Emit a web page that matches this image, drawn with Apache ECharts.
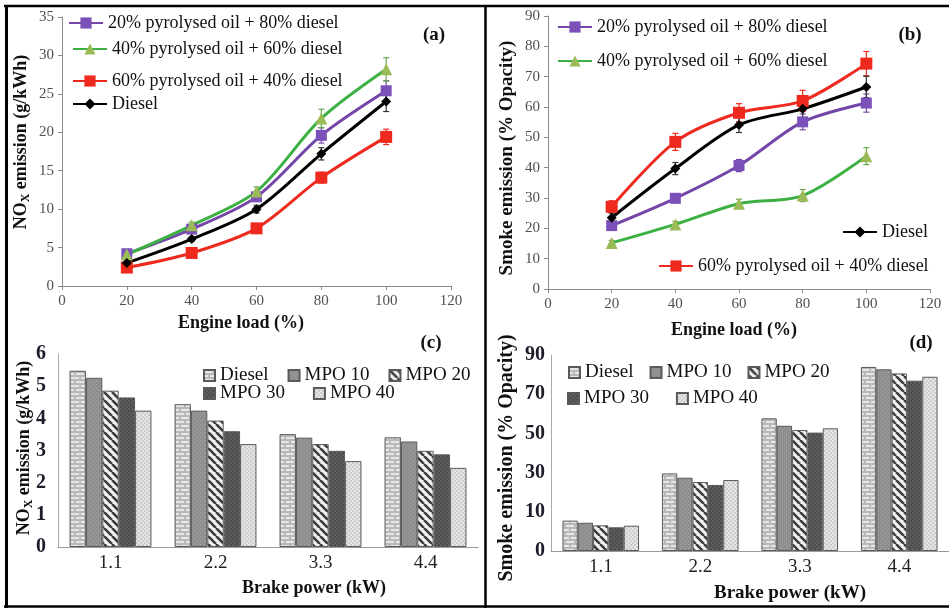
<!DOCTYPE html>
<html><head><meta charset="utf-8">
<script src="https://cdn.jsdelivr.net/npm/echarts@6/dist/echarts.min.js"></script>
<style>html,body{margin:0;padding:0;background:#fff}#c{width:949px;height:609px}</style>
</head><body><div id="c"></div>
<script>
// ---------- data ----------
const loads = [20, 40, 60, 80, 100];
const nameP20 = '20% pyrolysed oil + 80% diesel';
const nameP40 = '40% pyrolysed oil + 60% diesel';
const nameP60 = '60% pyrolysed oil + 40% diesel';
const nameDiesel = 'Diesel';

// (a) NOx emission (g/kWh)
const noxP20 = [4.2, 7.4, 11.6, 19.6, 25.4];
const noxP40 = [4.1, 7.9, 12.3, 21.8, 28.2];
const noxP60 = [2.4, 4.3, 7.5, 14.1, 19.4];
const noxDiesel = [3.0, 6.1, 10.0, 17.2, 24.0];
const noxErrP20 = [0.3, 0.4, 0.5, 1.0, 1.3];
const noxErrP40 = [0.3, 0.4, 0.6, 1.2, 1.5];
const noxErrP60 = [0.3, 0.3, 0.6, 0.7, 1.0];
const noxErrDiesel = [0.3, 0.3, 0.5, 0.8, 1.3];

// (b) Smoke emission (% opacity)
const smokeP20 = [20.9, 29.9, 40.7, 55.1, 61.3];
const smokeP40 = [15.2, 21.3, 28.1, 30.8, 43.8];
const smokeP60 = [27.1, 48.5, 58.1, 62.0, 74.3];
const smokeDiesel = [23.5, 39.7, 54.1, 59.4, 66.6];
const smokeErrP20 = [1.0, 1.5, 2.0, 2.6, 3.0];
const smokeErrP40 = [0.8, 1.0, 1.5, 2.0, 2.8];
const smokeErrP60 = [2.0, 2.8, 3.0, 3.5, 4.0];
const smokeErrDiesel = [1.5, 2.0, 2.5, 3.0, 3.5];

// (c)/(d) bars
const brakePower = ['1.1', '2.2', '3.3', '4.4'];
const fuelNames = ['Diesel', 'MPO 10', 'MPO 20', 'MPO 30', 'MPO 40'];
const noxBarDiesel = [5.48, 4.44, 3.51, 3.41];
const noxBarMPO10 = [5.26, 4.24, 3.40, 3.28];
const noxBarMPO20 = [4.86, 3.93, 3.20, 2.99];
const noxBarMPO30 = [4.65, 3.60, 2.99, 2.88];
const noxBarMPO40 = [4.24, 3.20, 2.67, 2.46];
const smokeBarDiesel = [15.5, 39.6, 67.7, 93.9];
const smokeBarMPO10 = [14.4, 37.4, 63.9, 92.7];
const smokeBarMPO20 = [13.1, 35.2, 61.7, 90.6];
const smokeBarMPO30 = [12.1, 33.7, 60.4, 86.9];
const smokeBarMPO40 = [12.9, 36.2, 62.6, 88.9];
const smokeBarTickLabels = ['0', '10', '30', '50', '70', '90'];

// ---------- styles ----------
const FF = '"Liberation Serif","Times New Roman",serif';
const colP20 = '#7346a8', mkP20 = '#7b50b8';
const colP40 = '#3cb043', mkP40 = '#9bbb59';
const colP60 = '#ee2a1e', mkP60 = '#ee2a1e';
const colD = '#000000', mkD = '#000000';

function pat(w, h, draw) {
  const c = document.createElement('canvas'); c.width = w; c.height = h;
  const g = c.getContext('2d'); draw(g); return { image: c, repeat: 'repeat' };
}
const patterns = [
  pat(10, 8, g => { g.fillStyle = '#b8b8b8'; g.fillRect(0,0,10,8); g.fillStyle = '#e6e6e6';
    g.fillRect(1,1,8,2); g.fillRect(-4,5,8,2); g.fillRect(6,5,8,2); }),
  pat(4, 4, g => { g.fillStyle = '#8e8e8e'; g.fillRect(0,0,4,4); g.fillStyle = '#a9a9a9';
    g.fillRect(0,0,1,1); g.fillRect(2,2,1,1); }),
  pat(8, 8, g => { g.fillStyle = '#f2f2f2'; g.fillRect(0,0,8,8); g.strokeStyle = '#3c3c3c'; g.lineWidth = 2.6;
    for (const k of [-8, 0, 8]) { g.beginPath(); g.moveTo(k, 0); g.lineTo(k + 8, 8); g.stroke(); } }),
  pat(4, 4, g => { g.fillStyle = '#4c4c4c'; g.fillRect(0,0,4,4); g.fillStyle = '#5e5e5e';
    g.fillRect(0,0,2,2); g.fillRect(2,2,2,2); }),
  pat(4, 4, g => { g.fillStyle = '#cdcdcd'; g.fillRect(0,0,4,4); g.fillStyle = '#e6e6e6';
    g.fillRect(0,0,2,2); g.fillRect(2,2,2,2); })
];

function lineSeries(name, xi, vals, lineColor, markColor, symbol, size) {
  return { type: 'line', name, xAxisIndex: xi, yAxisIndex: xi, smooth: 0.3,
    data: loads.map((x, i) => [x, vals[i]]), symbol, symbolSize: size, z: 3,
    lineStyle: { color: lineColor, width: 3 }, itemStyle: { color: markColor, borderWidth: 0 } };
}
function errSeries(xi, vals, errs, color) {
  return { type: 'custom', xAxisIndex: xi, yAxisIndex: xi, silent: true, z: 2,
    data: loads.map((x, i) => [x, vals[i] - errs[i], vals[i] + errs[i]]),
    encode: { x: 0, y: [1, 2] },
    renderItem(params, api) {
      const lo = api.coord([api.value(0), api.value(1)]);
      const hi = api.coord([api.value(0), api.value(2)]);
      const w = 3, st = { stroke: color, lineWidth: 1.2 };
      return { type: 'group', children: [
        { type: 'line', shape: { x1: lo[0], y1: lo[1], x2: hi[0], y2: hi[1] }, style: st },
        { type: 'line', shape: { x1: lo[0]-w, y1: lo[1], x2: lo[0]+w, y2: lo[1] }, style: st },
        { type: 'line', shape: { x1: hi[0]-w, y1: hi[1], x2: hi[0]+w, y2: hi[1] }, style: st }
      ] };
    } };
}
const BP = 'bar:';
function barSeries(i, xi, vals, gap) {
  return { type: 'bar', name: BP + fuelNames[i], xAxisIndex: xi, yAxisIndex: xi, data: vals,
    barGap: '0%', barCategoryGap: gap,
    itemStyle: { color: patterns[i], borderColor: '#5a5a5a', borderWidth: 1 } };
}

const lineAxisLabel = { fontFamily: FF, fontSize: 15, color: '#505050' };
const lineAxisLine = { lineStyle: { color: '#8a8a8a', width: 1 } };
function valX(gi) {
  return { type: 'value', gridIndex: gi, min: 0, max: 120, interval: 20,
    axisLine: { show: true, ...lineAxisLine }, axisTick: { show: true, length: 4, lineStyle: { color: '#8a8a8a' } },
    splitLine: { show: false }, axisLabel: { ...lineAxisLabel, margin: 8 } };
}
function valY(gi, max, interval) {
  return { type: 'value', gridIndex: gi, min: 0, max, interval,
    axisLine: { show: true, ...lineAxisLine }, axisTick: { show: true, length: 4, lineStyle: { color: '#8a8a8a' } },
    splitLine: { show: false }, axisLabel: { ...lineAxisLabel, margin: 8 } };
}
function catX(gi) {
  return { type: 'category', gridIndex: gi, data: brakePower,
    axisLine: { show: true, lineStyle: { color: '#9a9a9a' } }, axisTick: { show: false },
    axisLabel: { fontFamily: FF, fontSize: 19, color: '#222', margin: 7 } };
}

function lineLegend(name, left, cy) {
  return { data: [name], left, top: cy - 10, padding: 0, itemWidth: 34, itemHeight: 14,
    selectedMode: false, textStyle: { fontFamily: FF, fontSize: 18, color: '#111' } };
}
function barLegend(names, left, cy, gap) {
  return { data: names.map(n => ({ name: BP + n, icon: 'rect' })), left, top: cy - 11, padding: 0,
    itemWidth: 11, itemHeight: 11, itemGap: gap, selectedMode: false, formatter: n => n.slice(BP.length),
    textStyle: { fontFamily: FF, fontSize: 19, color: '#111' } };
}

function txt(text, x, y, size, opts = {}) {
  return { type: 'text', x, y, rotation: opts.rot || 0, z: 10,
    style: { text, font: 'bold ' + size + 'px ' + FF, fill: '#111', align: 'center', verticalAlign: 'middle' } };
}
function noxTitle(x, y, size) {
  const rich = {
    a: { fontFamily: FF, fontWeight: 'bold', fontSize: size, lineHeight: size + 4, fill: '#111' },
    s: { fontFamily: FF, fontWeight: 'bold', fontSize: Math.round(size * 0.65), lineHeight: Math.round(size * 0.65),
         verticalAlign: 'bottom', fill: '#111' }
  };
  return { type: 'text', x, y, rotation: Math.PI / 2, z: 10,
    style: { text: '{a|NO}{s|X}{a| emission (g/kWh)}', rich, align: 'center', verticalAlign: 'middle' } };
}
function hl(x1, y1, x2, y2, w) {
  return { type: 'line', shape: { x1, y1, x2, y2 }, style: { stroke: '#000', lineWidth: w }, z: 20 };
}

const option = {
  backgroundColor: '#fff',
  animation: false,
  grid: [
    { left: 62, top: 17, width: 389, height: 269 },
    { left: 548, top: 16, width: 382, height: 273 },
    { left: 58, top: 354, width: 420, height: 193 },
    { left: 551, top: 355, width: 398, height: 196 }
  ],
  xAxis: [valX(0), valX(1), catX(2), catX(3)],
  yAxis: [
    valY(0, 35, 5),
    valY(1, 90, 10),
    { type: 'value', gridIndex: 2, min: 0, max: 6, interval: 1, splitLine: { show: false },
      axisLine: { show: true, lineStyle: { color: '#aaa' } }, axisTick: { show: false },
      axisLabel: { fontFamily: FF, fontSize: 20, fontWeight: 'bold', color: '#1c1c2a', margin: 12 } },
    { type: 'value', gridIndex: 3, min: 0, max: 100, interval: 20, splitLine: { show: false },
      axisLine: { show: true, lineStyle: { color: '#aaa' } }, axisTick: { show: false },
      axisLabel: { fontFamily: FF, fontSize: 20, fontWeight: 'bold', color: '#1c1c2a', margin: 6,
        formatter: v => smokeBarTickLabels[Math.round(v / 20)] } }
  ],
  legend: [
    lineLegend(nameP20, 68, 24),
    lineLegend(nameP40, 72, 50),
    lineLegend(nameP60, 72, 82),
    lineLegend(nameDiesel, 72, 105),
    lineLegend(nameP20, 557, 28),
    lineLegend(nameP40, 557, 62),
    lineLegend(nameDiesel, 842, 233),
    lineLegend(nameP60, 658, 267),
    barLegend(fuelNames.slice(0, 3), 203, 377, 19),
    barLegend(fuelNames.slice(3), 203, 395, 28),
    barLegend(fuelNames.slice(0, 3), 568, 374, 16),
    barLegend(fuelNames.slice(3), 567, 400, 27)
  ],
  series: [
    errSeries(0, noxP20, noxErrP20, colP20),
    errSeries(0, noxP40, noxErrP40, '#6aa84f'),
    errSeries(0, noxP60, noxErrP60, colP60),
    errSeries(0, noxDiesel, noxErrDiesel, '#333'),
    lineSeries(nameP20, 0, noxP20, colP20, mkP20, 'rect', 11),
    lineSeries(nameP40, 0, noxP40, colP40, mkP40, 'triangle', 12),
    lineSeries(nameP60, 0, noxP60, colP60, mkP60, 'rect', 12),
    lineSeries(nameDiesel, 0, noxDiesel, colD, mkD, 'diamond', 10),
    errSeries(1, smokeP20, smokeErrP20, colP20),
    errSeries(1, smokeP40, smokeErrP40, '#6aa84f'),
    errSeries(1, smokeP60, smokeErrP60, colP60),
    errSeries(1, smokeDiesel, smokeErrDiesel, '#333'),
    lineSeries(nameP20, 1, smokeP20, colP20, mkP20, 'rect', 11),
    lineSeries(nameP40, 1, smokeP40, colP40, mkP40, 'triangle', 12),
    lineSeries(nameP60, 1, smokeP60, colP60, mkP60, 'rect', 12),
    lineSeries(nameDiesel, 1, smokeDiesel, colD, mkD, 'diamond', 10),
    barSeries(0, 2, noxBarDiesel, '22%'),
    barSeries(1, 2, noxBarMPO10, '22%'),
    barSeries(2, 2, noxBarMPO20, '22%'),
    barSeries(3, 2, noxBarMPO30, '22%'),
    barSeries(4, 2, noxBarMPO40, '22%'),
    barSeries(0, 3, smokeBarDiesel, '23%'),
    barSeries(1, 3, smokeBarMPO10, '23%'),
    barSeries(2, 3, smokeBarMPO20, '23%'),
    barSeries(3, 3, smokeBarMPO30, '23%'),
    barSeries(4, 3, smokeBarMPO40, '23%')
  ],
  graphic: [
    hl(4, 6, 949, 6, 2.5),
    hl(4, 606.5, 949, 606.5, 2.5),
    hl(6.5, 5, 6.5, 608, 3),
    hl(485.5, 5, 485.5, 608, 2.5),
    txt('(a)', 434, 35, 19),
    txt('(b)', 910, 35, 19),
    txt('(c)', 431, 343, 19),
    txt('(d)', 921, 343, 19),
    txt('Engine load (%)', 241, 323, 18),
    txt('Engine load (%)', 734, 330, 18),
    txt('Brake power (kW)', 314, 588, 18),
    txt('Brake power (kW)', 790, 593, 19),
    noxTitle(21, 142, 18),
    noxTitle(24, 448, 18),
    txt('Smoke emission (% Opacity)', 507, 158, 19, { rot: Math.PI / 2 }),
    txt('Smoke emission (% Opacity)', 507, 458, 20, { rot: Math.PI / 2 })
  ]
};
const chart = echarts.init(document.getElementById('c'), null, { renderer: 'canvas' });
chart.setOption(option);
</script>
</body></html>
